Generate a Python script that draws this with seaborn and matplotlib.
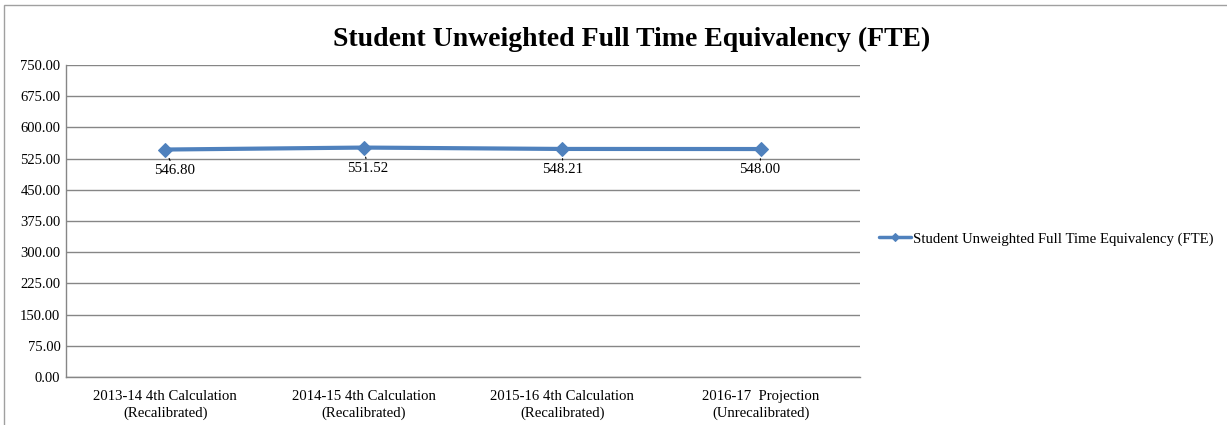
import matplotlib
matplotlib.use("Agg")
import matplotlib.pyplot as plt
from matplotlib.patches import Rectangle
import seaborn as sns
import pandas as pd

categories = [
    "2013-14 4th Calculation\n(Recalibrated)",
    "2014-15 4th Calculation\n(Recalibrated)",
    "2015-16 4th Calculation\n(Recalibrated)",
    "2016-17  Projection\n(Unrecalibrated)",
]
fte_values = [546.80, 551.52, 548.21, 548.00]
series_name = "Student Unweighted Full Time Equivalency (FTE)"
y_ticks = [0, 75, 150, 225, 300, 375, 450, 525, 600, 675, 750]

sns.set_theme(style="white")
plt.rcParams["font.family"] = ["Liberation Serif", "DejaVu Serif"]
plt.rcParams["text.color"] = "black"

df = pd.DataFrame({"pos": range(len(categories)), "value": fte_values,
                   "series": series_name})

fig = plt.figure(figsize=(12.27, 4.25), dpi=100)
ax = fig.add_axes([66 / 1227, 1 - 377 / 425, (860 - 66) / 1227, (377 - 65) / 425])

line_color = "#4F81BD"
sns.lineplot(data=df, x="pos", y="value", hue="series", palette=[line_color],
             marker="D", markersize=7, linewidth=3, markeredgecolor=line_color,
             ax=ax, legend=True)

ax.set_xlim(-0.5, len(categories) - 0.5)
ax.set_ylim(0, 750)
ax.set_yticks(y_ticks)
ax.set_yticklabels([f"{v:.2f}" for v in y_ticks])
ax.set_xticks(range(len(categories)))
ax.set_xticklabels(categories, linespacing=1.3, va="baseline")
ax.set_xticks([i - 0.5 for i in range(len(categories) + 1)], minor=True)
ax.tick_params(axis="x", which="major", length=0, pad=28.5, labelsize=10.6, colors="black")
ax.tick_params(axis="x", which="minor", length=4, color="#868686", width=1)
ax.tick_params(axis="y", length=0, pad=4, labelsize=10.5, colors="black")
ax.set_xlabel("")
ax.set_ylabel("")

ax.yaxis.grid(True, color="#868686", linewidth=1)
ax.set_axisbelow(True)
for side in ["top", "right"]:
    ax.spines[side].set_visible(False)
for side in ["left", "bottom"]:
    ax.spines[side].set_color("#868686")
    ax.spines[side].set_linewidth(1)

# Value labels below each point with a short leader line
offsets = [(6.5, -15), (3, -15), (0.5, -15), (-0.5, -15)]
for i, (v, off) in enumerate(zip(fte_values, offsets)):
    ax.annotate(f"{v:.2f}", xy=(i, v), xytext=off, textcoords="offset points",
                ha="center", va="center", fontsize=10.7, color="black",
                arrowprops=dict(arrowstyle="-", color="black", lw=0.8,
                                shrinkA=0, shrinkB=7))

fig.suptitle(series_name, x=632 / 1227, y=1 - 39 / 425, va="center",
             fontsize=20, fontweight="bold", color="black")

handles, labels = ax.get_legend_handles_labels()
leg = ax.legend(handles, labels, loc="center left",
                bbox_to_anchor=(873 / 1227, 1 - 239 / 425),
                bbox_transform=fig.transFigure, frameon=False, fontsize=10.6,
                handlelength=2.2, handletextpad=0.1, borderaxespad=0,
                markerscale=0.6)
for t in leg.get_texts():
    t.set_color("black")
for h in leg.legend_handles:
    h.set_linewidth(2.5)

# Chart frame
fig.patches.append(Rectangle((4 / 1227, -0.01), 1.1, 1 - 5 / 425 + 0.01,
                             transform=fig.transFigure, fill=False,
                             edgecolor="#A0A0A0", linewidth=1))

fig.savefig("out.png", dpi=100)
